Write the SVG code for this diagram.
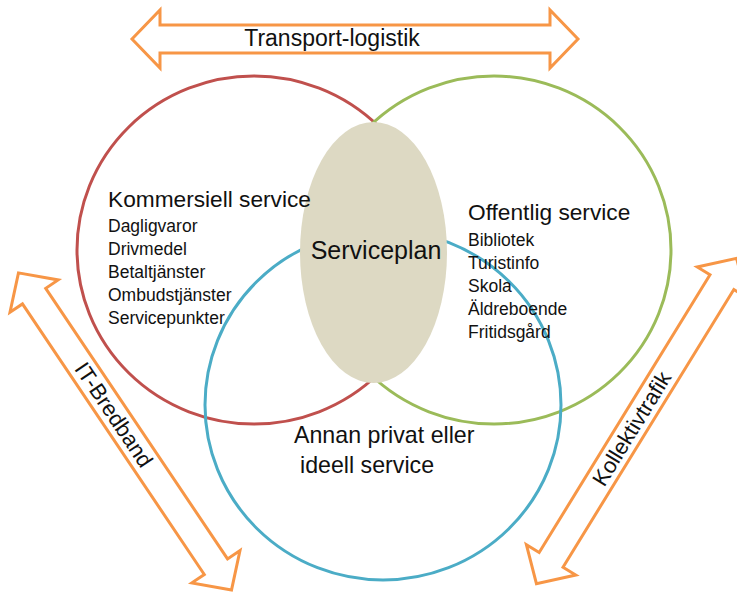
<svg xmlns="http://www.w3.org/2000/svg" width="737" height="592" viewBox="0 0 737 592">
<style>
.ring{fill:none;stroke-width:3}
.arrow{fill:#fff;stroke:#F79646;stroke-width:3;stroke-linejoin:miter}
text{font-family:"Liberation Sans",Arial,sans-serif;fill:#111}
.head{font-size:22.7px}
.item{font-size:17.5px}
.lbl{font-size:22px}
</style>
<defs>
<path id="dbl" d="M-191,0 L-163,-29 L-163,-14 L163,-14 L163,-29 L191,0 L163,29 L163,14 L-163,14 L-163,29 Z"/>
</defs>
<rect width="737" height="592" fill="#fff"/>
<g id="connectors">
<g id="arrow-transport">
<path class="arrow" d="M132,39 L160,10 L160,25 L550,25 L550,10 L578,39 L550,68 L550,53 L160,53 L160,68 Z"/>
<text class="lbl" x="332" y="46" font-size="23" text-anchor="middle" style="font-size:23px">Transport-logistik</text>
</g>
<g id="arrow-it" transform="translate(125,431.4) rotate(56.1)">
<use href="#dbl" class="arrow"/>
<text class="lbl" x="-20" y="7.5" text-anchor="middle">IT-Bredband</text>
</g>
<g id="arrow-kollektiv" transform="translate(636.5,421) rotate(-58.4)">
<use href="#dbl" class="arrow"/>
<text class="lbl" x="-9" y="7.5" text-anchor="middle">Kollektivtrafik</text>
</g>
</g>
<g id="node-kommersiell">
<ellipse class="ring" cx="254" cy="250" rx="177" ry="174" stroke="#C0504D"/>
</g>
<g id="node-offentlig">
<ellipse class="ring" cx="494" cy="250" rx="177" ry="174" stroke="#9BBB59"/>
</g>
<g id="node-annan">
<ellipse class="ring" cx="383" cy="405" rx="178" ry="175" stroke="#4BACC6"/>
</g>
<g id="node-serviceplan">
<ellipse cx="373.5" cy="252.5" rx="73.5" ry="130.5" fill="#DDD9C3"/>
<text x="376" y="259" font-size="25" text-anchor="middle">Serviceplan</text>
</g>
<g id="text-kommersiell">
<text class="head" x="108" y="207">Kommersiell service</text>
<text class="item" x="108" y="232">Dagligvaror</text>
<text class="item" x="108" y="255">Drivmedel</text>
<text class="item" x="108" y="278">Betaltjänster</text>
<text class="item" x="108" y="301">Ombudstjänster</text>
<text class="item" x="108" y="324">Servicepunkter</text>
</g>
<g id="text-offentlig">
<text class="head" x="468" y="220">Offentlig service</text>
<text class="item" x="468" y="246">Bibliotek</text>
<text class="item" x="468" y="269">Turistinfo</text>
<text class="item" x="468" y="292">Skola</text>
<text class="item" x="468" y="315">Äldreboende</text>
<text class="item" x="468" y="338">Fritidsgård</text>
</g>
<g id="text-annan">
<text class="head" x="294" y="443" style="font-size:23.2px">Annan privat eller</text>
<text class="head" x="300" y="473" style="font-size:23.2px">ideell service</text>
</g>
</svg>
